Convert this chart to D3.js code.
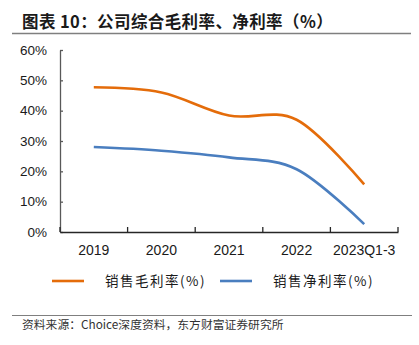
<!DOCTYPE html>
<html>
<head>
<meta charset="utf-8">
<script src="https://cdn.jsdelivr.net/npm/d3@7"></script>
<style>
  body { margin: 0; background: #fff; }
  svg { display: block; }
</style>
</head>
<body>
<svg id="canvas" width="419" height="345"></svg>
<script>
// chart data
let categories = ['2019', '2020', '2021', '2022', '2023Q1-3'];
let grossMargin = [47.7, 46.0, 38.4, 37.0, 15.7];
let netMargin = [28.0, 26.8, 24.6, 20.7, 2.6];
let yTicks = [0, 10, 20, 30, 40, 50, 60];
let seriesNames = ['销售毛利率(%)', '销售净利率(%)'];
let seriesColors = ['#E46C0A', '#4A7EBF'];

let canvas = d3.select('#canvas');

//title and its rule
canvas.append('text')
    .attr('x', 22)
    .attr('y', 28)
    .attr('font-family', 'Noto Sans CJK SC')
    .attr('font-weight', 'bold')
    .attr('font-size', 16.5)
    .attr('letter-spacing', 0.4)
    .attr('fill', '#1a1a1a')
    .text('图表 10：公司综合毛利率、净利率（%）');
canvas.append('line')
    .attr('x1', 12).attr('x2', 411)
    .attr('y1', 33.5).attr('y2', 33.5)
    .attr('stroke', '#7f7f7f')
    .attr('stroke-width', 1.5);

//scales
let x = d3.scaleBand()
            .domain(categories)
            .range([60, 398])
            .padding(0);
let y = d3.scaleLinear()
            .domain([0, 60])
            .range([232, 50]);

//y axis, ticks pointing into the plot
let yAxis = d3.axisLeft(y)
                .tickValues(yTicks)
                .tickFormat((d) => d + '%')
                .tickSizeInner(-3)
                .tickSizeOuter(0)
                .tickPadding(13);
let gy = canvas.append('g')
                .attr('transform', 'translate(60,0)')
                .call(yAxis);
gy.selectAll('text')
    .attr('font-family', 'Liberation Sans')
    .attr('font-size', 13.5)
    .attr('fill', '#1a1a1a');
gy.selectAll('line, path').attr('stroke', '#595959').attr('stroke-width', 1.3);

//x axis, labels only; boundary ticks drawn below
let xAxis = d3.axisBottom(x)
                .tickSize(0)
                .tickPadding(13);
let gx = canvas.append('g')
                .attr('transform', 'translate(0,232)')
                .call(xAxis);
gx.select('.domain').attr('stroke', '#262626').attr('stroke-width', 1.3);
gx.selectAll('text')
    .attr('font-family', 'Liberation Sans')
    .attr('font-size', 14)
    .attr('fill', '#1a1a1a');
gx.selectAll('.boundary')
    .data(d3.range(categories.length + 1))
    .enter()
    .append('line')
    .attr('class', 'boundary')
    .attr('x1', (i) => x.range()[0] + i * x.step())
    .attr('x2', (i) => x.range()[0] + i * x.step())
    .attr('y1', 0)
    .attr('y2', -5)
    .attr('stroke', '#262626')
    .attr('stroke-width', 1.3);

//smoothed lines
let line = d3.line()
                .x((d, i) => x(categories[i]) + x.bandwidth() / 2)
                .y((d) => y(d))
                .curve(d3.curveCardinal.tension(0));
[grossMargin, netMargin].forEach((series, k) => {
    canvas.append('path')
        .datum(series)
        .attr('d', line)
        .attr('fill', 'none')
        .attr('stroke', seriesColors[k])
        .attr('stroke-width', 2.6);
});

//legend
let legendX = [52, 220];
seriesNames.forEach((name, k) => {
    canvas.append('line')
        .attr('x1', legendX[k]).attr('x2', legendX[k] + 32)
        .attr('y1', 281).attr('y2', 281)
        .attr('stroke', seriesColors[k])
        .attr('stroke-width', 2.6);
    canvas.append('text')
        .attr('x', legendX[k] + 53)
        .attr('y', 286)
        .attr('font-family', 'Noto Sans CJK SC')
        .attr('font-size', 13.5)
        .attr('letter-spacing', 1.5)
        .attr('fill', '#1a1a1a')
        .text(name);
});

//source line
canvas.append('line')
    .attr('x1', 12).attr('x2', 412)
    .attr('y1', 315.5).attr('y2', 315.5)
    .attr('stroke', '#7f7f7f')
    .attr('stroke-width', 1.2);
canvas.append('text')
    .attr('x', 22)
    .attr('y', 329)
    .attr('font-family', 'Noto Sans CJK SC')
    .attr('font-size', 11.8)
    .attr('fill', '#333')
    .text('资料来源：Choice深度资料，东方财富证券研究所');
</script>
</body>
</html>
